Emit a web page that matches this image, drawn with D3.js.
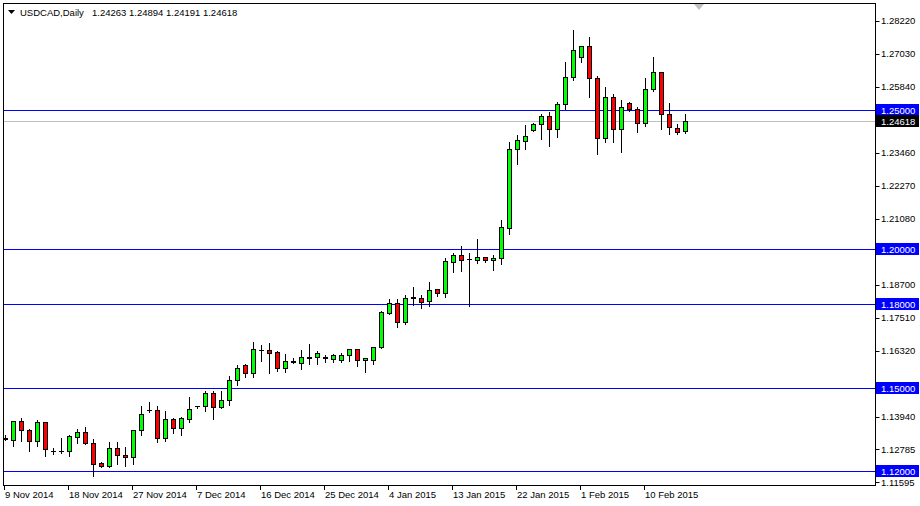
<!DOCTYPE html>
<html><head><meta charset="utf-8">
<script src="https://cdn.jsdelivr.net/npm/d3@7"></script>
<style>body{margin:0;background:#fff}svg{display:block}</style>
</head><body>
<svg id="chart" width="920" height="506"></svg>
<script>
const symbolTitle = "USDCAD,Daily";
const titleValues = "1.24263 1.24894 1.24191 1.24618";

const dates = [
"2014.11.09","2014.11.10","2014.11.11","2014.11.12","2014.11.13","2014.11.14",
"2014.11.16","2014.11.17","2014.11.18","2014.11.19","2014.11.20","2014.11.21",
"2014.11.23","2014.11.24","2014.11.25","2014.11.26","2014.11.27","2014.11.28",
"2014.11.30","2014.12.01","2014.12.02","2014.12.03","2014.12.04","2014.12.05",
"2014.12.07","2014.12.08","2014.12.09","2014.12.10","2014.12.11","2014.12.12",
"2014.12.14","2014.12.15","2014.12.16","2014.12.17","2014.12.18","2014.12.19",
"2014.12.21","2014.12.22","2014.12.23","2014.12.24","2014.12.25","2014.12.26",
"2014.12.28","2014.12.29","2014.12.30","2014.12.31","2015.01.01","2015.01.02",
"2015.01.04","2015.01.05","2015.01.06","2015.01.07","2015.01.08","2015.01.09",
"2015.01.11","2015.01.12","2015.01.13","2015.01.14","2015.01.15","2015.01.16",
"2015.01.18","2015.01.19","2015.01.20","2015.01.21","2015.01.22","2015.01.23",
"2015.01.25","2015.01.26","2015.01.27","2015.01.28","2015.01.29","2015.01.30",
"2015.02.01","2015.02.02","2015.02.03","2015.02.04","2015.02.05","2015.02.06",
"2015.02.08","2015.02.09","2015.02.10","2015.02.11","2015.02.12","2015.02.13",
"2015.02.15","2015.02.16"];

const open = [
1.1317,1.1312,1.1378,1.1346,1.1309,1.1377,1.1273,1.1272,1.1270,1.1322,
1.1339,1.1299,1.1227,1.1218,1.1281,1.1257,1.1250,1.1346,1.1420,1.1418,
1.1317,1.1385,1.1355,1.1388,1.1434,1.1434,1.1479,1.1431,1.1455,1.1526,
1.1581,1.1551,1.1637,1.1635,1.1627,1.1569,1.1595,1.1590,1.1610,1.1609,
1.1609,1.1604,1.1599,1.1616,1.1638,1.1598,1.1598,1.1645,1.1770,1.1804,
1.1738,1.1822,1.1823,1.1811,1.1854,1.1840,1.1954,1.1978,1.1963,1.1961,
1.1971,1.1959,1.1966,1.2077,1.2360,1.2390,1.2429,1.2450,1.2480,1.2432,
1.2522,1.2621,1.2691,1.2732,1.2618,1.2400,1.2549,1.2432,1.2527,1.2504,
1.2454,1.2577,1.2639,1.2486,1.2437,1.24263];
const high = [
1.1332,1.1379,1.1395,1.1354,1.1386,1.1380,1.1286,1.1321,1.1333,1.1355,
1.1362,1.1317,1.1235,1.1307,1.1309,1.1288,1.1349,1.1437,1.1451,1.1437,
1.1418,1.1394,1.1397,1.1469,1.1439,1.1490,1.1490,1.1490,1.1545,1.1584,
1.1587,1.1668,1.1658,1.1664,1.1634,1.1623,1.1610,1.1638,1.1662,1.1635,
1.1622,1.1626,1.1628,1.1644,1.1644,1.1610,1.1650,1.1781,1.1822,1.1824,
1.1836,1.1866,1.1836,1.1884,1.1858,1.1972,1.1989,1.2013,1.1989,1.2039,
1.1975,1.1983,1.2107,1.2390,1.2414,1.2450,1.2456,1.2492,1.2496,1.2534,
1.2676,1.2793,1.2733,1.2769,1.2628,1.2588,1.2564,1.2540,1.2534,1.2516,
1.2621,1.2694,1.2643,1.2531,1.2454,1.24894];
const low = [
1.1310,1.1289,1.1307,1.1271,1.1289,1.1253,1.1259,1.1265,1.1252,1.1301,
1.1298,1.1182,1.1215,1.1214,1.1223,1.1217,1.1223,1.1329,1.1412,1.1304,
1.1307,1.1337,1.1329,1.1377,1.1427,1.1415,1.1387,1.1427,1.1437,1.1508,
1.1539,1.1539,1.1596,1.1551,1.1560,1.1557,1.1588,1.1568,1.1586,1.1584,
1.1593,1.1592,1.1592,1.1596,1.1578,1.1557,1.1586,1.1643,1.1766,1.1718,
1.1730,1.1798,1.1788,1.1793,1.1831,1.1828,1.1918,1.1921,1.1794,1.1951,
1.1954,1.1924,1.1945,1.2053,1.2306,1.2360,1.2426,1.2398,1.2372,1.2402,
1.2506,1.2609,1.2673,1.2549,1.2344,1.2384,1.2387,1.2351,1.2498,1.2420,
1.2444,1.2570,1.2432,1.2416,1.2416,1.24191];
const close = [
1.1316,1.1378,1.1346,1.1309,1.1375,1.1279,1.1272,1.1271,1.1325,1.1339,
1.1299,1.1223,1.1218,1.1281,1.1257,1.1249,1.1347,1.1403,1.1418,1.1317,
1.1385,1.1355,1.1389,1.1421,1.1432,1.1479,1.1431,1.1457,1.1526,1.1569,
1.1551,1.1638,1.1635,1.1626,1.1569,1.1596,1.1593,1.1610,1.1608,1.1623,
1.1607,1.1617,1.1617,1.1638,1.1598,1.1605,1.1646,1.1774,1.1804,1.1738,
1.1822,1.1825,1.1810,1.1852,1.1840,1.1957,1.1978,1.1959,1.1962,1.1971,
1.1959,1.1966,1.2079,1.2360,1.2393,1.2408,1.2450,1.2480,1.2432,1.2522,
1.2621,1.2717,1.2732,1.2618,1.2400,1.2549,1.2432,1.2513,1.2503,1.2454,
1.2577,1.2639,1.2486,1.2438,1.2420,1.24618];

const xTickDates = ["2014.11.09","2014.11.18","2014.11.27","2014.12.07","2014.12.16","2014.12.25",
                    "2015.01.04","2015.01.13","2015.01.22","2015.02.01","2015.02.10"];
const xTickLabels = ["9 Nov 2014","18 Nov 2014","27 Nov 2014","7 Dec 2014","16 Dec 2014","25 Dec 2014",
                     "4 Jan 2015","13 Jan 2015","22 Jan 2015","1 Feb 2015","10 Feb 2015"];
const yTickValues = [1.11595,1.12785,1.13940,1.15130,1.16320,1.17510,1.18700,1.19890,
                     1.21080,1.22270,1.23460,1.24650,1.25840,1.27030,1.28220];
const levelLines = [1.25, 1.20, 1.18, 1.15, 1.12];
const lastPrice = 1.24618;

const W = 920, H = 506;
const plot = {left: 4, right: 875, top: 4, bottom: 485};
const FONT = "'Liberation Sans', Arial, sans-serif";
const svg = d3.select("#chart");

svg.append("rect").attr("width", W).attr("height", H).attr("fill", "#ffffff");

const y = d3.scaleLinear().domain([1.11487, 1.28833]).range([plot.bottom, plot.top]);
const x = d3.scaleBand().domain(dates).range([1.5, 1.5 + 8 * dates.length]).padding(0);
const cx = d => x(d) + 4;
const py = v => Math.round(y(v)) + 0.5;

const data = dates.map((d, i) => ({date: d, o: open[i], h: high[i], l: low[i], c: close[i]}));

svg.append("clipPath").attr("id", "pc").append("rect")
  .attr("x", plot.left).attr("y", plot.top)
  .attr("width", plot.right - plot.left).attr("height", plot.bottom - plot.top);

const g = svg.append("g").attr("clip-path", "url(#pc)");

// level lines
g.selectAll("line.lvl").data(levelLines).enter().append("line")
  .attr("x1", plot.left).attr("x2", plot.right)
  .attr("y1", d => py(d)).attr("y2", d => py(d))
  .attr("stroke", "#0000ff").attr("stroke-width", 1);
g.append("line").attr("x1", plot.left).attr("x2", plot.right)
  .attr("y1", py(lastPrice)).attr("y2", py(lastPrice))
  .attr("stroke", "#c0c0c0").attr("stroke-width", 1);

// candles
const cg = g.selectAll("g.candle").data(data).enter().append("g");
cg.append("line")
  .attr("x1", d => cx(d.date)).attr("x2", d => cx(d.date))
  .attr("y1", d => py(d.h)).attr("y2", d => py(d.l))
  .attr("stroke", "#000").attr("stroke-width", 1).attr("shape-rendering", "crispEdges");
cg.each(function(d) {
  const sel = d3.select(this);
  const y1 = py(Math.max(d.o, d.c)), y2 = py(Math.min(d.o, d.c));
  if (y2 - y1 < 1) {
    sel.append("line").attr("x1", cx(d.date) - 2.5).attr("x2", cx(d.date) + 2.5)
      .attr("y1", y1).attr("y2", y1).attr("stroke", "#000").attr("stroke-width", 1)
      .attr("shape-rendering", "crispEdges");
  } else {
    sel.append("rect").attr("x", cx(d.date) - 2).attr("width", 4)
      .attr("y", y1).attr("height", y2 - y1)
      .attr("fill", d.c >= d.o ? "#00ff00" : "#ff0000")
      .attr("stroke", "#000").attr("stroke-width", 1).attr("shape-rendering", "crispEdges");
  }
});

// frame
svg.append("rect").attr("x", plot.left - 0.5).attr("y", plot.top - 0.5)
  .attr("width", plot.right - plot.left + 1).attr("height", plot.bottom - plot.top + 1)
  .attr("fill", "none").attr("stroke", "#000").attr("stroke-width", 1);

// right axis: ticks for every value, text only where not covered by a tag
const tagged = levelLines.concat([lastPrice]);
const isCovered = v => tagged.some(t => Math.abs(y(t) - y(v)) < 9);
const ya = svg.append("g");
ya.selectAll("line").data(yTickValues).enter().append("line")
  .attr("x1", plot.right + 0.5).attr("x2", plot.right + 4.5)
  .attr("y1", d => py(d)).attr("y2", d => py(d)).attr("stroke", "#000");
ya.selectAll("text").data(yTickValues.filter(v => !isCovered(v))).enter().append("text")
  .attr("x", plot.right + 6).attr("y", d => y(d) + 3.5)
  .attr("font-family", FONT).attr("font-size", 9.5).attr("fill", "#000")
  .text(d => d.toFixed(5));

// highlighted labels
function tag(v, bg) {
  const yy = Math.round(y(v));
  svg.append("rect").attr("x", plot.right + 1).attr("y", yy - 6).attr("width", 43).attr("height", 12).attr("fill", bg);
  svg.append("text").attr("x", plot.right + 6).attr("y", yy + 3.5)
    .attr("font-family", FONT).attr("font-size", 9.5).attr("fill", "#fff").text(v.toFixed(5));
}
levelLines.forEach(v => tag(v, "#0000ff"));
tag(lastPrice, "#000000");

// bottom axis
const xa = svg.append("g");
xa.selectAll("line").data(xTickDates).enter().append("line")
  .attr("x1", d => cx(d) - 1).attr("x2", d => cx(d) - 1)
  .attr("y1", plot.bottom).attr("y2", plot.bottom + 5).attr("stroke", "#000");
xa.selectAll("text").data(xTickDates).enter().append("text")
  .attr("x", d => cx(d) - 0.5).attr("y", plot.bottom + 13)
  .attr("font-family", FONT).attr("font-size", 9.5).attr("fill", "#000")
  .text((d, i) => xTickLabels[i]);

// title
svg.append("path").attr("d", "M8,10 L15,10 L11.5,14 Z").attr("fill", "#000");
svg.append("text").attr("x", 20).attr("y", 16).attr("font-family", FONT).attr("font-size", 9.5)
  .attr("fill", "#000").text(symbolTitle);
svg.append("text").attr("x", 92).attr("y", 16).attr("font-family", FONT).attr("font-size", 9.5)
  .attr("fill", "#000").text(titleValues);

// shift marker
svg.append("path").attr("d", "M694,4 L704,4 L699,10 Z").attr("fill", "#c0c0c0");
</script>
</body></html>
